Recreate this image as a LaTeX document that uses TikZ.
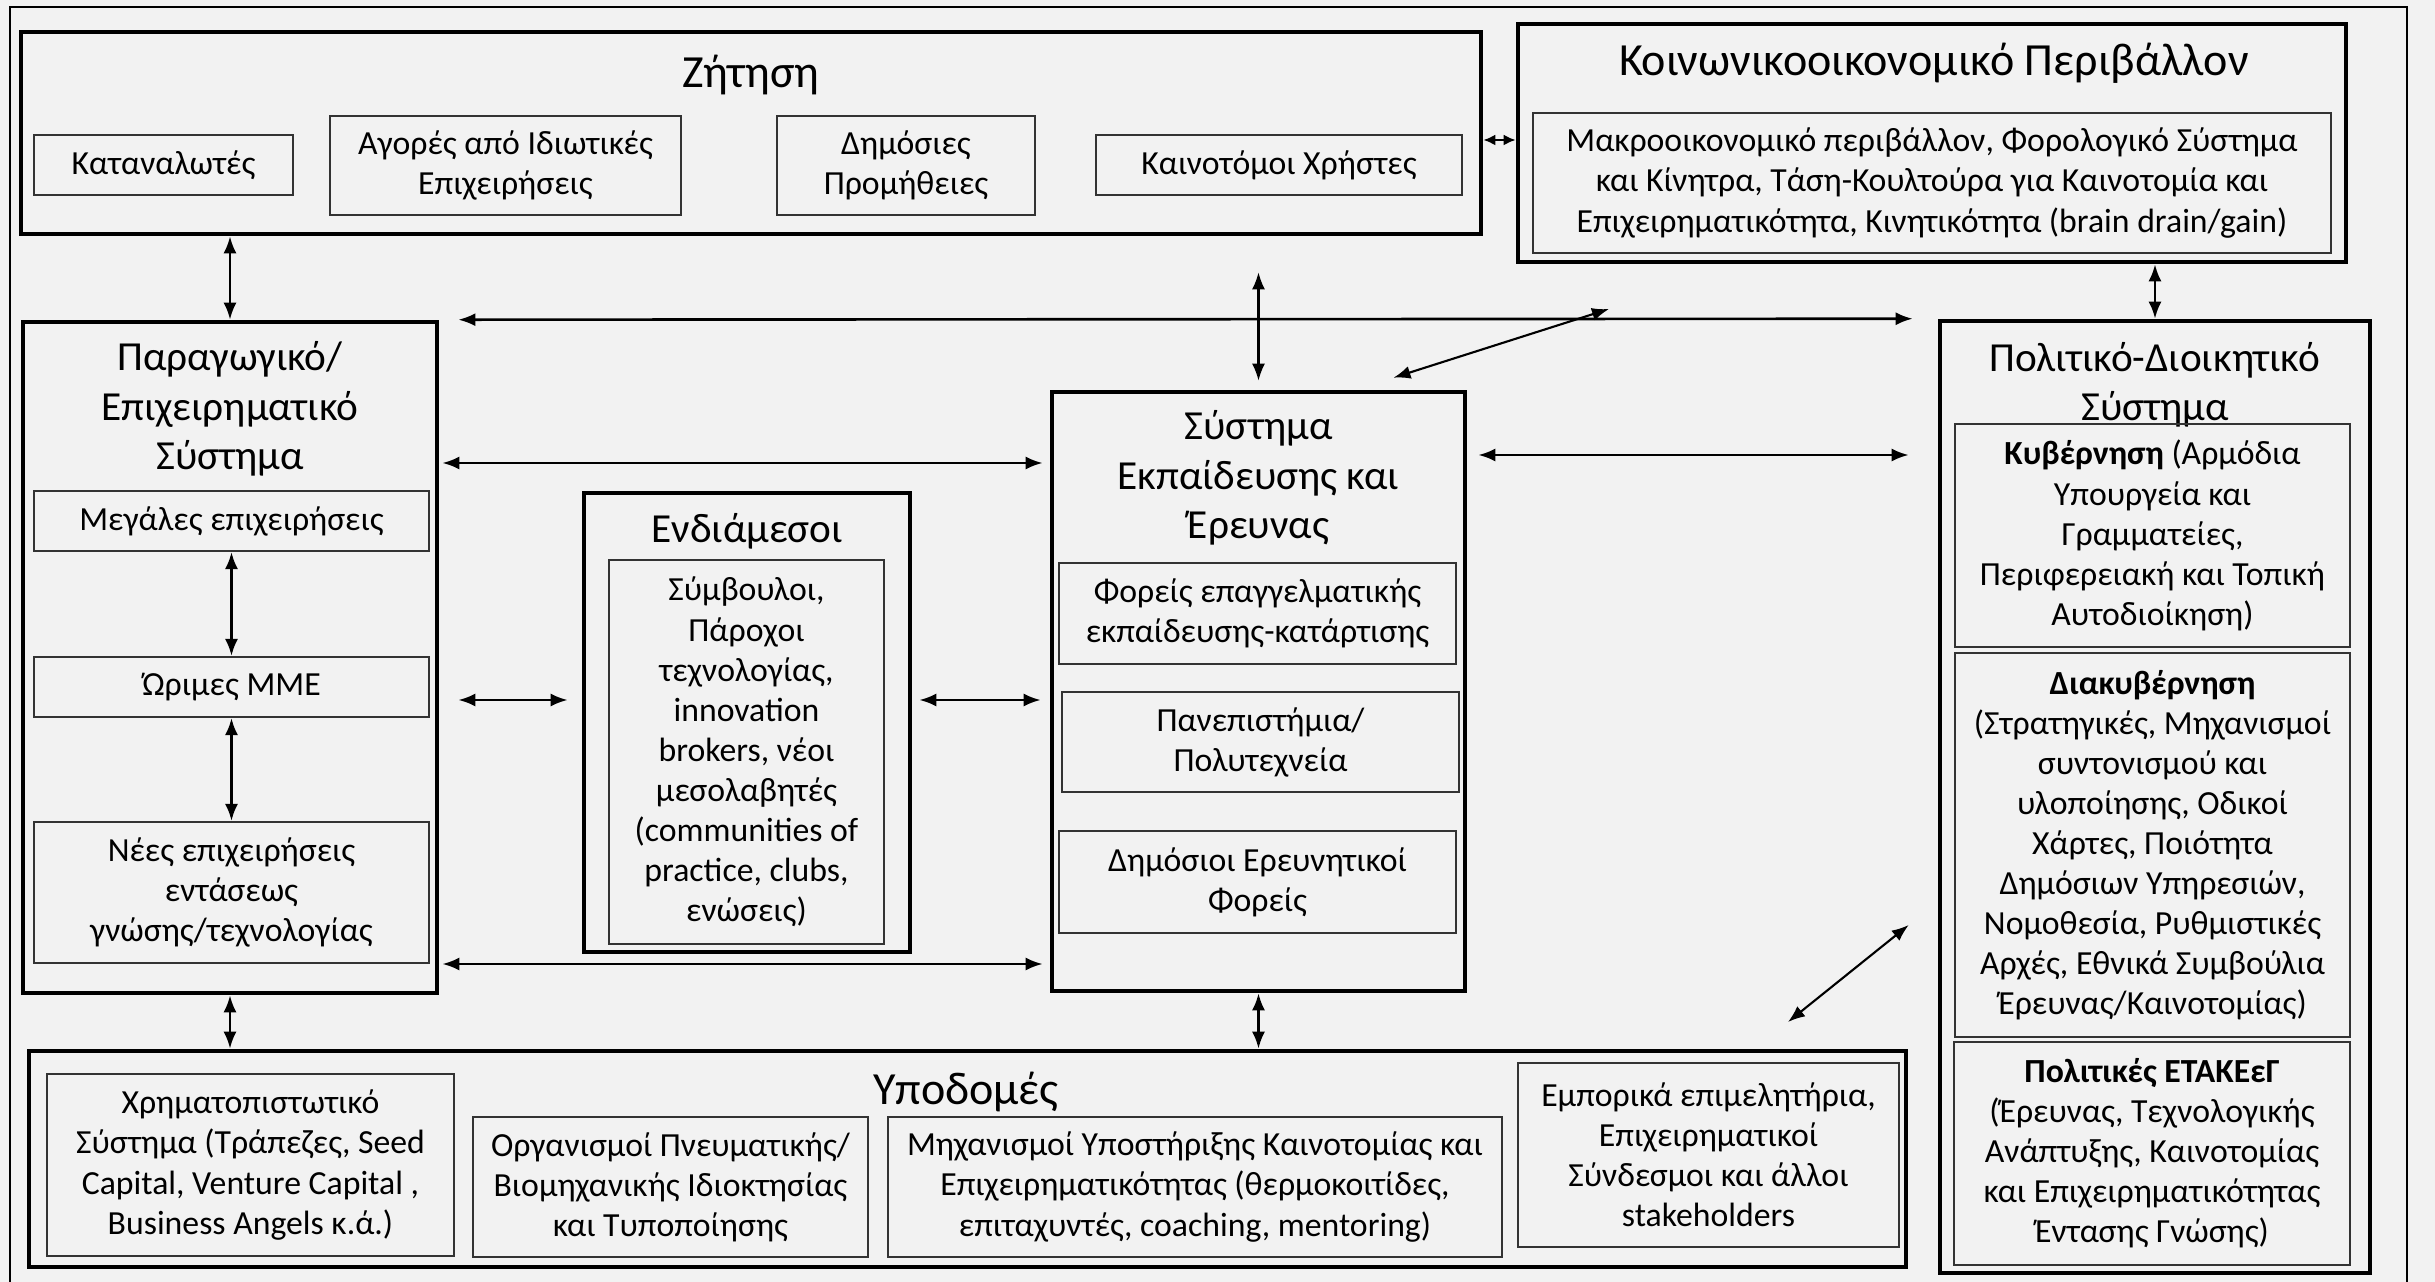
\documentclass[tikz,border=0pt]{standalone}
\usepackage{fontspec}
\setmainfont{Carlito}
\usepackage{tikz}
\usetikzlibrary{arrows.meta, positioning}

\begin{document}
\begin{tikzpicture}[
  bigbox/.style={draw, line width=1.3pt, inner sep=0pt},
  smallbox/.style={draw=black!80, line width=0.6pt, inner sep=1pt, align=center, font=\fontsize{9.6}{11.4}\selectfont},
  boxtitle/.style={align=center, inner sep=0pt, font=\fontsize{11.75}{14.1}\selectfont},
  bigtitle/.style={boxtitle, font=\fontsize{13.1}{15}\selectfont},
  dbl/.style={{Latex[length=1.7mm,width=1.3mm]}-{Latex[length=1.7mm,width=1.3mm]}, line width=0.75pt}]
\useasboundingbox[fill=black!5] (0,0) rectangle (24.35,-12.82);
\draw[line width=0.7pt] (0.10,-12.82) -- (0.10,-0.07) -- (24.07,-0.07) -- (24.07,-12.82);

% demand
\node[bigbox, minimum width=14.60cm, minimum height=2.02cm] (zitisi) at (7.51,-1.33) {};
\node[bigtitle] (zitisititle) at (7.51,-0.75) {Ζήτηση};
\node[smallbox, minimum width=2.59cm, minimum height=0.60cm] (katanal) at (1.635,-1.65) {Καταναλωτές};
\node[smallbox, minimum width=3.51cm, minimum height=0.99cm] (agores) at (5.055,-1.655) {Αγορές από Ιδιωτικές\\Επιχειρήσεις};
\node[smallbox, minimum width=2.58cm, minimum height=0.99cm] (dimosies) at (9.06,-1.655) {Δημόσιες\\Προμήθειες};
\node[smallbox, minimum width=3.66cm, minimum height=0.60cm] (kainot) at (12.79,-1.65) {Καινοτόμοι Χρήστες};

% socio-economic environment
\node[bigbox, minimum width=8.28cm, minimum height=2.38cm] (koinon) at (19.32,-1.43) {};
\node[bigtitle] (koinontitle) at (19.34,-0.63) {Κοινωνικοοικονομικό Περιβάλλον};
\node[smallbox, minimum width=7.98cm, minimum height=1.40cm] (makro) at (19.32,-1.83) {Μακροοικονομικό περιβάλλον, Φορολογικό Σύστημα\\και Κίνητρα, Τάση-Κουλτούρα για Καινοτομία και\\Επιχειρηματικότητα, Κινητικότητα (brain drain/gain)};

% business system
\node[bigbox, minimum width=4.14cm, minimum height=6.71cm] (parag) at (2.30,-6.575) {};
\node[boxtitle] (paragtitle) at (2.30,-4.09) {Παραγωγικό/\\Επιχειρηματικό\\Σύστημα};
\node[smallbox, minimum width=3.95cm, minimum height=0.60cm] (megales) at (2.315,-5.21) {Μεγάλες επιχειρήσεις};
\node[smallbox, minimum width=3.95cm, minimum height=0.60cm] (orimes) at (2.315,-6.87) {Ώριμες ΜΜΕ};
\node[smallbox, minimum width=3.95cm, minimum height=1.41cm] (nees) at (2.315,-8.925) {Νέες επιχειρήσεις\\εντάσεως\\γνώσης/τεχνολογίας};

% intermediaries
\node[bigbox, minimum width=3.26cm, minimum height=4.59cm] (endiam) at (7.47,-7.225) {};
\node[boxtitle] (endiamtitle) at (7.47,-5.31) {Ενδιάμεσοι};
\node[smallbox, minimum width=2.75cm, minimum height=3.84cm] (symvoul) at (7.465,-7.52) {Σύμβουλοι,\\Πάροχοι\\τεχνολογίας,\\innovation\\brokers, νέοι\\μεσολαβητές\\(communities of\\practice, clubs,\\ενώσεις)};

% education and research
\node[bigbox, minimum width=4.13cm, minimum height=5.99cm] (seer) at (12.585,-6.915) {};
\node[boxtitle] (seertitle) at (12.585,-4.78) {Σύστημα\\Εκπαίδευσης και\\Έρευνας};
\node[smallbox, minimum width=3.97cm, minimum height=1.01cm] (foreis) at (12.575,-6.135) {Φορείς επαγγελματικής\\εκπαίδευσης-κατάρτισης};
\node[smallbox, minimum width=3.97cm, minimum height=1.00cm] (panep) at (12.605,-7.42) {Πανεπιστήμια/\\Πολυτεχνεία};
\node[smallbox, minimum width=3.97cm, minimum height=1.02cm] (dimereyn) at (12.575,-8.82) {Δημόσιοι Ερευνητικοί\\Φορείς};

% political-administrative system
\node[bigbox, minimum width=4.30cm, minimum height=9.52cm] (polit) at (21.55,-7.97) {};
\node[boxtitle] (polittitle) at (21.55,-3.85) {Πολιτικό-Διοικητικό\\Σύστημα};
\node[smallbox, minimum width=3.95cm, minimum height=2.23cm] (kyvern) at (21.525,-5.355) {\textbf{Κυβέρνηση} (Αρμόδια\\Υπουργεία και\\Γραμματείες,\\Περιφερειακή και Τοπική\\Αυτοδιοίκηση)};
\node[smallbox, minimum width=3.95cm, minimum height=3.84cm] (diakyv) at (21.525,-8.45) {\textbf{Διακυβέρνηση}\\(Στρατηγικές, Μηχανισμοί\\συντονισμού και\\υλοποίησης, Οδικοί\\Χάρτες, Ποιότητα\\Δημόσιων Υπηρεσιών,\\Νομοθεσία, Ρυθμιστικές\\Αρχές, Εθνικά Συμβούλια\\Έρευνας/Καινοτομίας)};
\node[smallbox, minimum width=3.96cm, minimum height=2.23cm] (politikes) at (21.52,-11.535) {\textbf{Πολιτικές ΕΤΑΚΕεΓ}\\(Έρευνας, Τεχνολογικής\\Ανάπτυξης, Καινοτομίας\\και Επιχειρηματικότητας\\Έντασης Γνώσης)};

% infrastructure
\node[bigbox, minimum width=18.77cm, minimum height=2.16cm] (ypodom) at (9.675,-11.59) {};
\node[bigtitle] (ypodomtitle) at (9.66,-10.92) {Υποδομές};
\node[smallbox, minimum width=4.07cm, minimum height=1.82cm] (xrimat) at (2.505,-11.65) {Χρηματοπιστωτικό\\Σύστημα (Τράπεζες, Seed\\Capital, Venture Capital ,\\Business Angels κ.ά.)};
\node[smallbox, minimum width=3.95cm, minimum height=1.40cm] (organ) at (6.705,-11.87) {Οργανισμοί Πνευματικής/\\Βιομηχανικής Ιδιοκτησίας\\και Τυποποίησης};
\node[smallbox, minimum width=6.14cm, minimum height=1.40cm] (mixan) at (11.95,-11.87) {Μηχανισμοί Υποστήριξης Καινοτομίας και\\Επιχειρηματικότητας (θερμοκοιτίδες,\\επιταχυντές, coaching, mentoring)};
\node[smallbox, minimum width=3.81cm, minimum height=1.84cm] (empor) at (17.085,-11.55) {Εμπορικά επιμελητήρια,\\Επιχειρηματικοί\\Σύνδεσμοι και άλλοι\\stakeholders};

% links
\draw[{Latex[length=1.2mm,width=1.1mm]}-{Latex[length=1.2mm,width=1.1mm]}, line width=0.75pt] (zitisi.east |- 0,-1.40) -- (koinon.west |- 0,-1.40);
\draw[dbl] (zitisi.south -| parag.north) -- (parag.north);
\draw[dbl, line width=0.6pt, shorten <=0.36cm, shorten >=0.09cm] (zitisi.south -| seer.north) -- (seer.north);
\draw[dbl] (koinon.south -| polit.north) -- (polit.north);
\draw[dbl, shorten <=0.19cm, shorten >=0.25cm] (parag.north east) -- (polit.north west);
\coordinate (diagup) at (16.09,-3.09);
\draw[dbl, line width=0.6pt] ([shift={(1.35,0.12)}]seer.north) -- (diagup);
\draw[dbl, shorten <=0.03cm, shorten >=0.07cm] (parag.east |- 0,-4.63) -- (seer.west |- 0,-4.63);
\draw[dbl, shorten <=0.11cm, shorten >=0.29cm] (seer.east |- 0,-4.55) -- (polit.west |- 0,-4.55);
\draw[dbl] (megales.south) -- (orimes.north);
\draw[dbl] (orimes.south) -- (nees.north);
\draw[dbl, shorten <=0.19cm, shorten >=0.14cm] (parag.east |- 0,-7.00) -- (endiam.west |- 0,-7.00);
\draw[dbl, shorten <=0.07cm, shorten >=0.09cm] (endiam.east |- 0,-7.00) -- (seer.west |- 0,-7.00);
\draw[dbl, shorten <=0.03cm, shorten >=0.07cm] (parag.east |- 0,-9.64) -- (seer.west |- 0,-9.64);
\draw[dbl] (parag.south) -- (parag.south |- ypodom.north);
\draw[dbl] (seer.south) -- (seer.south |- ypodom.north);
\coordinate (diagdown) at (17.88,-10.22);
\draw[dbl, line width=0.6pt] (diagdown) -- ([shift={(-0.29,-1.28)}]polit.west);
\end{tikzpicture}
\end{document}
